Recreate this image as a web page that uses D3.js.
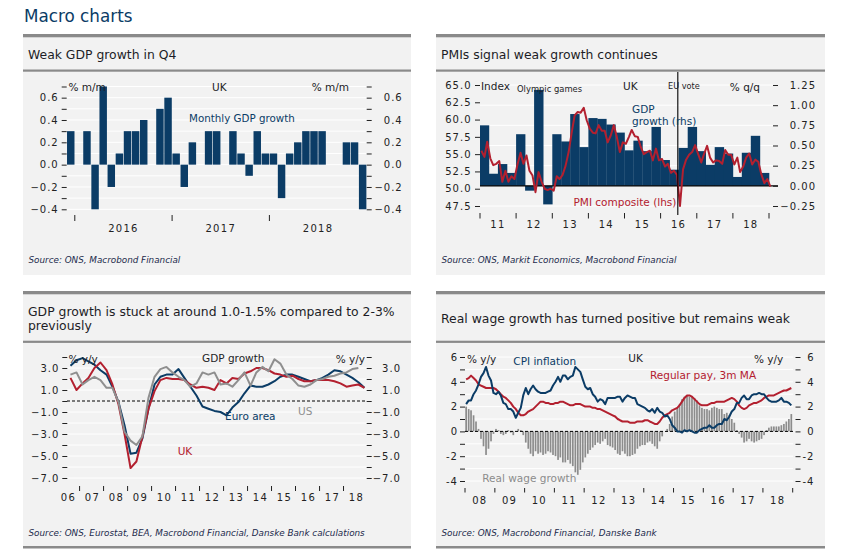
<!DOCTYPE html>
<html><head><meta charset="utf-8">
<script src="https://cdn.jsdelivr.net/npm/d3@7"></script>
<style>
body{margin:0;background:#fff;}
svg{display:block;font-family:"DejaVu Sans",sans-serif;}
</style></head><body>
<svg id="c" width="841" height="557"></svg>
<script>
// ================= DATA =================
// Panel 1: UK monthly GDP growth, % m/m (Dec 2015 - Dec 2018)
const p1StartMonth = [2015, 11];
const p1Values = [0.3, 0.0, 0.3, -0.4, 0.7, -0.2, 0.1, 0.3, 0.3, 0.4, 0.0, 0.5, 0.6,
  0.1, -0.2, 0.2, 0.0, 0.3, 0.3, 0.0, 0.3, 0.1, -0.1, 0.3, 0.1,
  0.1, -0.3, 0.1, 0.2, 0.3, 0.3, 0.3, 0.0, 0.0, 0.2, 0.2, -0.4];
const p1YTicks = [-0.4, -0.3, -0.2, -0.1, 0.0, 0.1, 0.2, 0.3, 0.4, 0.5, 0.6, 0.7];
const p1YLabels = [-0.4, -0.2, 0.0, 0.2, 0.4, 0.6];
const p1Years = ["2016", "2017", "2018"];

// Panel 2: UK GDP q/q (rhs, quarterly 2011Q1-2018Q4), PMI composite (lhs, monthly Jan 2011 - Jan 2019)
const p2GdpStart = [2011, 0];
const p2Gdp = [0.75, 0.15, 0.27, 0.16, 0.64, -0.06, 1.19, -0.23, 0.64, 0.55, 0.89, 0.48,
  0.84, 0.83, 0.76, 0.66, 0.44, 0.56, 0.43, 0.73, 0.32, 0.20, 0.47, 0.73,
  0.43, 0.26, 0.48, 0.40, 0.11, 0.41, 0.62, 0.16];
const p2PmiStart = [2011, 0];
const p2Pmi = [
  55.5, 54.6, 56.8, 54.4, 53.4, 53.6, 54.0, 51.0, 52.6, 51.0, 51.8, 51.4,
  53.5, 55.2, 53.6, 54.8, 52.6, 51.9, 49.5, 52.4, 51.0, 50.0, 49.8, 50.0,
  49.7, 51.8, 51.4, 52.0, 53.3, 55.3, 58.0, 60.6, 61.1, 61.0, 61.7, 59.9,
  58.7, 58.1, 58.0, 59.2, 58.4, 58.4, 56.7, 57.7, 59.2, 57.5, 55.3, 56.7,
  56.5, 57.5, 58.5, 57.6, 57.5, 56.0, 55.0, 55.3, 55.5, 54.1, 55.8, 54.1,
  54.3, 53.2, 53.6, 52.3, 52.6, 52.0, 47.5, 52.8, 54.2, 54.9, 55.3, 56.3,
  55.0, 53.8, 55.0, 56.2, 54.5, 53.8, 54.1, 54.0, 53.6, 55.6, 54.9, 54.9,
  53.5, 54.5, 52.4, 53.2, 54.5, 55.1, 53.5, 54.2, 53.9, 52.1, 50.8, 51.4,
  50.3];
const p2LeftTicks = [47.5, 50.0, 52.5, 55.0, 57.5, 60.0, 62.5, 65.0];
const p2RightTicks = [-0.25, 0.00, 0.25, 0.50, 0.75, 1.00, 1.25];
const p2Years = ["11", "12", "13", "14", "15", "16", "17", "18"];
const p2EuVote = [2016, 5, 23];

// Panel 3: GDP growth % y/y, quarterly from 2006Q3
const p3Start = [2006, 6];
const p3UK = [2.1, 1.0, 1.6, 2.1, 3.0, 3.5, 2.8, 1.5, -0.3, -3.0, -6.1, -5.5, -3.2, -0.7,
  0.9, 1.9, 2.1, 2.0, 2.0, 1.9, 1.5, 1.2, 1.3, 1.2, 1.0, 1.9, 1.6, 2.1, 2.0, 2.5,
  2.7, 3.0, 3.0, 2.8, 2.5, 2.4, 2.2, 2.3, 2.0, 1.8, 1.8, 1.9, 1.9, 1.9, 1.8, 1.6,
  1.3, 1.4, 1.5, 1.2];
const p3Euro = [3.2, 3.7, 3.9, 3.6, 3.3, 2.8, 2.4, 1.3, -0.1, -2.2, -4.8, -4.7, -3.4, -0.7,
  1.5, 2.2, 2.4, 2.4, 2.9, 2.1, 1.3, 0.5, -0.5, -0.7, -0.9, -1.0, -1.3, -0.6, -0.1, 0.7,
  1.4, 1.3, 1.3, 1.5, 1.8, 2.2, 2.4, 2.4, 2.2, 2.0, 1.8, 1.9, 2.1, 2.4, 2.8, 2.7,
  2.4, 2.1, 1.7, 1.2];
const p3US = [2.4, 2.6, 1.5, 1.9, 2.2, 1.9, 1.2, 1.2, -0.1, -2.8, -3.6, -4.0, -3.2, 0.3,
  2.2, 2.9, 3.1, 2.6, 2.2, 1.9, 1.3, 1.6, 2.6, 2.4, 2.6, 1.5, 1.6, 1.3, 1.9, 2.6,
  1.4, 2.6, 3.1, 2.7, 3.8, 3.4, 2.4, 2.0, 1.4, 1.3, 1.5, 1.9, 2.0, 2.2, 2.3, 2.5,
  2.6, 2.9, 3.0];
const p3YTicks = [-7, -6, -5, -4, -3, -2, -1, 0, 1, 2, 3, 4];
const p3YLabels = [-7, -5, -3, -1, 1, 3];
const p3Years = ["06", "07", "08", "09", "10", "11", "12", "13", "14", "15", "16", "17", "18"];

// Panel 4: UK monthly, Jan 2008 - Dec 2018, % y/y
const p4Start = [2008, 0];
const p4CPI = [
  2.2, 2.5, 2.5, 3.0, 3.3, 3.8, 4.4, 4.7, 5.2, 4.5, 4.1, 3.1,
  3.0, 3.2, 2.9, 2.3, 2.2, 1.8, 1.8, 1.6, 1.1, 1.5, 1.9, 2.9,
  3.5, 3.0, 3.4, 3.7, 3.4, 3.2, 3.1, 3.1, 3.1, 3.2, 3.3, 3.7,
  4.0, 4.4, 4.0, 4.5, 4.5, 4.2, 4.4, 4.5, 5.2, 5.0, 4.8, 4.2,
  3.6, 3.4, 3.5, 3.0, 2.8, 2.4, 2.6, 2.5, 2.2, 2.7, 2.7, 2.7,
  2.7, 2.8, 2.8, 2.4, 2.7, 2.9, 2.8, 2.7, 2.7, 2.2, 2.1, 2.0,
  1.9, 1.7, 1.6, 1.8, 1.5, 1.9, 1.6, 1.5, 1.2, 1.3, 1.0, 0.5,
  0.3, 0.0, 0.0, -0.1, 0.1, 0.0, 0.1, 0.0, -0.1, -0.1, 0.1, 0.2,
  0.3, 0.3, 0.5, 0.3, 0.3, 0.5, 0.6, 0.6, 1.0, 0.9, 1.2, 1.6,
  1.8, 2.3, 2.3, 2.7, 2.9, 2.6, 2.6, 2.9, 3.0, 3.0, 3.1, 3.0,
  3.0, 2.7, 2.5, 2.4, 2.4, 2.4, 2.5, 2.7, 2.4, 2.4, 2.3, 2.1];
const p4Pay = [
  4.2, 4.3, 4.5, 4.3, 4.1, 3.8, 3.7, 3.6, 3.5, 3.5, 3.5, 3.5,
  3.4, 3.2, 3.0, 2.8, 2.7, 2.5, 2.3, 2.0, 1.8, 1.5, 1.3, 1.3,
  1.4, 1.6, 1.7, 1.8, 2.0, 2.2, 2.4, 2.4, 2.3, 2.3, 2.2, 2.2,
  2.3, 2.3, 2.4, 2.4, 2.3, 2.2, 2.1, 2.1, 2.2, 2.2, 2.2, 2.1,
  2.0, 2.0, 2.0, 1.9, 1.9, 1.8, 1.8, 1.7, 1.6, 1.5, 1.4, 1.3,
  1.2, 1.0, 0.9, 0.8, 0.8, 0.8, 0.7, 0.7, 0.7, 0.8, 0.8, 0.8,
  0.9, 0.9, 0.8, 0.7, 0.6, 0.6, 0.8, 1.1, 1.3, 1.4, 1.5, 1.7,
  1.8, 1.9, 2.1, 2.4, 2.7, 2.9, 2.9, 2.8, 2.6, 2.4, 2.2, 2.1,
  2.1, 2.1, 2.2, 2.3, 2.3, 2.4, 2.4, 2.4, 2.4, 2.5, 2.6, 2.7,
  2.6, 2.4, 2.1, 1.9, 1.8, 1.9, 2.1, 2.2, 2.3, 2.3, 2.4, 2.5,
  2.7, 2.8, 2.9, 2.9, 2.9, 3.0, 3.1, 3.2, 3.3, 3.3, 3.4, 3.5];
const p4RealWage = [
  2.0, 1.8, 1.7, 1.3, 0.8, 0.2, -0.6, -1.2, -1.9, -1.4, -0.8, -0.2,
  0.2, 0.1, -0.2, -0.3, -0.2, 0.1, -0.1, -0.3, 0.0, 0.2, 0.1, -0.3,
  -0.9, -1.4, -1.8, -2.0, -1.6, -1.8, -1.7, -1.9, -1.8, -1.6, -1.7, -1.9,
  -2.0, -2.3, -2.1, -2.5, -2.5, -2.3, -2.6, -2.8, -3.3, -3.5, -3.1, -2.5,
  -2.1, -1.8, -1.5, -1.3, -1.1, -0.9, -1.0, -0.8, -0.6, -1.1, -1.2, -1.3,
  -1.5, -1.8, -1.9, -1.6, -1.8, -2.0, -2.0, -1.9, -1.8, -1.4, -1.2, -1.1,
  -1.1, -0.9, -0.8, -1.0, -1.2, -1.4, -0.8, -0.4, 0.0, 0.2, 0.6, 1.2,
  1.6, 1.9, 2.2, 2.6, 2.8, 2.9, 2.8, 2.8, 2.7, 2.5, 2.1, 1.9,
  1.8, 1.8, 1.7, 1.9, 2.0, 1.9, 1.8, 1.8, 1.4, 1.5, 1.3, 1.0,
  0.7, 0.1, -0.2, -0.5, -0.9, -0.8, -0.6, -0.8, -0.9, -0.8, -0.7, -0.6,
  -0.3, 0.1, 0.3, 0.4, 0.4, 0.4, 0.4, 0.5, 0.6, 0.8, 1.0, 1.4];
const p4YTicks = [-4, -3, -2, -1, 0, 1, 2, 3, 4, 5, 6];
const p4YLabels = [-4, -2, 0, 2, 4, 6];
const p4Years = ["08", "09", "10", "11", "12", "13", "14", "15", "16", "17", "18"];

// ================= STYLE =================
const NAVY = "#0b3c66", RED = "#b3202f", GRAY = "#8f8f8f", BG = "#f2f2f2", RULE = "#8a8a8a";
const INK = "#1d1d26", FONT = "'DejaVu Sans', sans-serif";
const svg = d3.select("#c");

svg.append("text").attr("x", 24).attr("y", 22).attr("font-size", 16.8)
  .attr("fill", NAVY).text("Macro charts");

function panel(x0, x1, top, sep, bodyEnd, bottomRule, titles, titleYs, source, sourceY) {
  svg.append("rect").attr("x", x0).attr("y", top).attr("width", x1 - x0).attr("height", bodyEnd - top).attr("fill", BG);
  svg.append("rect").attr("x", x0).attr("y", top).attr("width", x1 - x0).attr("height", 3.3).attr("fill", RULE);
  svg.append("rect").attr("x", x0).attr("y", sep).attr("width", x1 - x0).attr("height", 2.2).attr("fill", RULE);
  if (bottomRule) svg.append("rect").attr("x", x0).attr("y", bodyEnd).attr("width", x1 - x0).attr("height", 2.5).attr("fill", RULE);
  titles.forEach((t, i) => svg.append("text").attr("x", x0 + 5).attr("y", titleYs[i])
    .attr("font-size", 12.4).attr("fill", INK).text(t));
  svg.append("text").attr("x", x0 + 5.5).attr("y", sourceY).attr("font-size", 8.8)
    .attr("font-style", "italic").attr("fill", "#1c2a4c").text(source);
}

function txt(x, y, s, opts = {}) {
  return svg.append("text").attr("x", x).attr("y", y).attr("font-size", opts.size || 10.5)
    .attr("fill", opts.fill || INK).attr("text-anchor", opts.anchor || "start").text(s);
}

function yAxis(scale, tickVals, labelVals, fmt, side, axisX, labelEdge) {
  const axis = (side === "left" ? d3.axisLeft(scale) : d3.axisRight(scale))
    .tickValues(tickVals).tickSize(5)
    .tickFormat(d => labelVals.some(v => Math.abs(v - d) < 1e-9) ? fmt(d) : "");
  const g = svg.append("g").attr("transform", `translate(${axisX},0)`).call(axis)
    .attr("font-family", FONT).attr("font-size", 10);
  g.select(".domain").remove();
  g.selectAll(".tick line").attr("stroke", "#222");
  g.selectAll(".tick text").attr("x", labelEdge - axisX + 1).attr("text-anchor", "end")
    .attr("letter-spacing", 1).attr("fill", "#222");
  return g;
}

function grid(scale, vals, x0, x1) {
  svg.append("g").selectAll("line").data(vals).join("line")
    .attr("x1", x0).attr("x2", x1).attr("y1", d => scale(d)).attr("y2", d => scale(d))
    .attr("stroke", "#fff").attr("stroke-width", 1);
}

function xTicks(xs, y0, y1) {
  svg.append("g").selectAll("line").data(xs).join("line")
    .attr("x1", d => d).attr("x2", d => d).attr("y1", y0).attr("y2", y1)
    .attr("stroke", "#222");
}
function xLabels(items, y) {
  svg.append("g").selectAll("text").data(items).join("text")
    .attr("x", d => d.x).attr("y", y).attr("text-anchor", "middle")
    .attr("font-size", 10).attr("letter-spacing", 1.3).attr("fill", "#222").text(d => d.t);
}

// ================= PANELS =================
panel(23, 411, 34, 69.5, 275, false, ["Weak GDP growth in Q4"], [59], "Source: ONS, Macrobond Financial", 263);
panel(436, 825, 34, 69.5, 275, false, ["PMIs signal weak growth continues"], [59], "Source: ONS, Markit Economics, Macrobond Financial", 263);
panel(23, 411, 291, 340.7, 546, true, ["GDP growth is stuck at around 1.0-1.5% compared to 2-3%", "previously"], [315.5, 330],
  "Source: ONS, Eurostat, BEA, Macrobond Financial, Danske Bank calculations", 535.5);
panel(436, 825, 291, 340.7, 546, true, ["Real wage growth has turned positive but remains weak"], [323],
  "Source: ONS, Macrobond Financial, Danske Bank", 535.5);

// ---------- Panel 1 ----------
(function () {
  const months = p1Values.map((v, i) => new Date(p1StartMonth[0], p1StartMonth[1] + i, 1));
  const x = d3.scaleBand().domain(d3.range(p1Values.length)).range([66.7, 366.7]).paddingInner(0.08).paddingOuter(0.04);
  const y = d3.scaleLinear().domain([-0.4, 0.7]).range([209.3, 86.5]);
  grid(y, p1YTicks, 66.7, 366.7);
  svg.append("g").selectAll("rect").data(p1Values).join("rect")
    .attr("x", (d, i) => x(i)).attr("width", x.bandwidth())
    .attr("y", d => y(Math.max(0, d))).attr("height", d => Math.abs(y(d) - y(0)))
    .attr("fill", NAVY);
  const f = d3.format(".1f");
  yAxis(y, p1YTicks, p1YLabels, f, "left", 66.7, 57.7);
  yAxis(y, p1YTicks, p1YLabels, f, "right", 366.7, 401.7);
  const gap = (x.step() - x.bandwidth()) / 2;
  const janIdx = months.map((m, i) => m.getMonth() === 0 ? i : -1).filter(i => i >= 0);
  const tickXs = janIdx.map(i => x(i) - gap);
  xTicks(tickXs, 215, 221);
  const ends = tickXs.slice(1).concat([366.7]);
  xLabels(p1Years.map((t, k) => ({ t, x: (tickXs[k] + ends[k]) / 2 })), 232);
  txt(68.5, 90.5, "% m/m");
  txt(212, 90.5, "UK");
  txt(349, 90.5, "% m/m", { anchor: "end" });
  txt(189, 122, "Monthly GDP growth", { fill: NAVY, size: 10.3 });
})();

// ---------- Panel 2 ----------
(function () {
  const x = d3.scaleTime().domain([new Date(2011, 0, 1), new Date(2019, 0, 1)]).range([480, 769]);
  const yL = d3.scaleLinear().domain([47.5, 65]).range([206, 85]);
  const yR = d3.scaleLinear().domain([-0.25, 1.25]).range([206, 85]);
  grid(yR, p2RightTicks, 480, 773);
  svg.append("g").selectAll("rect").data(p2Gdp).join("rect")
    .attr("x", (d, i) => x(new Date(p2GdpStart[0], p2GdpStart[1] + 3 * i, 1)))
    .attr("width", (d, i) => x(new Date(p2GdpStart[0], p2GdpStart[1] + 3 * i + 3, 1)) - x(new Date(p2GdpStart[0], p2GdpStart[1] + 3 * i, 1)) + 0.3)
    .attr("y", d => yR(Math.max(0, d))).attr("height", d => Math.abs(yR(d) - yR(0)))
    .attr("fill", NAVY);
  svg.append("line").attr("x1", 480).attr("x2", 778).attr("y1", yR(0)).attr("y2", yR(0))
    .attr("stroke", "#000").attr("stroke-width", 1.1);
  const line = d3.line().x((d, i) => x(new Date(p2PmiStart[0], p2PmiStart[1] + i, 15))).y(d => yL(d));
  svg.append("path").datum(p2Pmi).attr("d", line).attr("fill", "none")
    .attr("stroke", RED).attr("stroke-width", 2).attr("stroke-linejoin", "round");
  const ev = x(new Date(p2EuVote[0], p2EuVote[1], p2EuVote[2]));
  svg.append("line").attr("x1", ev).attr("x2", ev).attr("y1", 72).attr("y2", 215)
    .attr("stroke", "#000").attr("stroke-width", 1.1);
  yAxis(yL, p2LeftTicks, p2LeftTicks, d3.format(".1f"), "left", 480, 470.5);
  yAxis(yR, p2RightTicks, p2RightTicks, d3.format(".2f"), "right", 773, 815);
  const yearsD = d3.range(2011, 2020).map(yr => x(new Date(yr, 0, 1)));
  xTicks(yearsD, 213, 218.5);
  xLabels(p2Years.map((t, k) => ({ t, x: x(new Date(2011 + k, 6, 1)) })), 228.3);
  txt(481, 90, "Index");
  txt(517, 91.5, "Olympic games", { size: 8.4 });
  txt(623, 90, "UK");
  txt(668, 88.5, "EU vote", { size: 8.2 });
  txt(760, 90.5, "% q/q", { anchor: "end" });
  txt(632, 113.3, "GDP", { fill: NAVY });
  txt(632, 124.5, "growth (rhs)", { fill: NAVY });
  txt(573.5, 206, "PMI composite (lhs)", { fill: RED });
})();

// ---------- Panel 3 ----------
(function () {
  const x = d3.scaleTime().domain([new Date(2006, 6, 1), new Date(2019, 0, 1)]).range([67.5, 367.5]);
  const y = d3.scaleLinear().domain([-7, 4]).range([478, 357]);
  grid(y, p3YTicks.filter(d => d !== 0), 67, 367);
  svg.append("line").attr("x1", 67).attr("x2", 367).attr("y1", y(0)).attr("y2", y(0))
    .attr("stroke", "#000").attr("stroke-width", 1).attr("stroke-dasharray", "3,2");
  const qd = i => new Date(p3Start[0], p3Start[1] + 3 * i + 1, 15);
  const line = d3.line().x((d, i) => x(qd(i))).y(d => y(d));
  [[p3Euro, NAVY], [p3UK, RED], [p3US, GRAY]].forEach(([data, c]) => {
    svg.append("path").datum(data).attr("d", line).attr("fill", "none")
      .attr("stroke", c).attr("stroke-width", 2).attr("stroke-linejoin", "round");
  });
  const f = d3.format(".1f");
  yAxis(y, p3YTicks, p3YLabels, f, "left", 67.3, 58.3);
  yAxis(y, p3YTicks, p3YLabels, f, "right", 366.7, 400);
  xTicks(d3.range(2007, 2019).map(yr => x(new Date(yr, 0, 1))), 486, 491);
  xLabels(p3Years.map((t, k) => ({ t, x: x(new Date(2006 + k, 6, 1)) + 1 })), 500.5);
  txt(68.5, 362.5, "% y/y");
  txt(202, 362, "GDP growth");
  txt(365, 362.5, "% y/y", { anchor: "end" });
  txt(225, 420, "Euro area", { fill: NAVY });
  txt(298, 415, "US", { fill: GRAY });
  txt(177.7, 455, "UK", { fill: RED });
})();

// ---------- Panel 4 ----------
(function () {
  const x = d3.scaleTime().domain([new Date(2008, 0, 1), new Date(2019, 0, 1)]).range([465, 792.7]);
  const y = d3.scaleLinear().domain([-4, 6]).range([481, 357]);
  grid(y, p4YTicks.filter(d => d !== 0), 465, 793);
  const md = i => new Date(p4Start[0], p4Start[1] + i, 15);
  svg.append("g").selectAll("rect").data(p4RealWage).join("rect")
    .attr("x", (d, i) => x(md(i)) - 0.85).attr("width", 1.7)
    .attr("y", d => y(Math.max(0, d))).attr("height", d => Math.abs(y(d) - y(0)))
    .attr("fill", "#8c8c8c");
  svg.append("line").attr("x1", 465).attr("x2", 793).attr("y1", y(0)).attr("y2", y(0))
    .attr("stroke", "#000").attr("stroke-width", 1).attr("stroke-dasharray", "3,2");
  const line = d3.line().x((d, i) => x(md(i))).y(d => y(d));
  [[p4Pay, RED], [p4CPI, NAVY]].forEach(([data, c]) => {
    svg.append("path").datum(data).attr("d", line).attr("fill", "none")
      .attr("stroke", c).attr("stroke-width", 2).attr("stroke-linejoin", "round");
  });
  const f = d => String(d);
  yAxis(y, p4YTicks, p4YLabels, f, "left", 465, 457);
  yAxis(y, p4YTicks, p4YLabels, f, "right", 795.5, 813.5);
  xTicks(d3.range(2008, 2020).map(yr => x(new Date(yr, 0, 1))), 488, 492.5);
  xLabels(p4Years.map((t, k) => ({ t, x: x(new Date(2008 + k, 6, 1)) })), 503.5);
  txt(467, 362.5, "% y/y");
  txt(513.3, 365, "CPI inflation", { fill: NAVY });
  txt(628.3, 362, "UK");
  txt(783.3, 362.5, "% y/y", { anchor: "end" });
  txt(650, 379.3, "Regular pay, 3m MA", { fill: RED });
  txt(482.3, 481.7, "Real wage growth", { fill: "#8c8c8c" });
})();
</script>
</body></html>
